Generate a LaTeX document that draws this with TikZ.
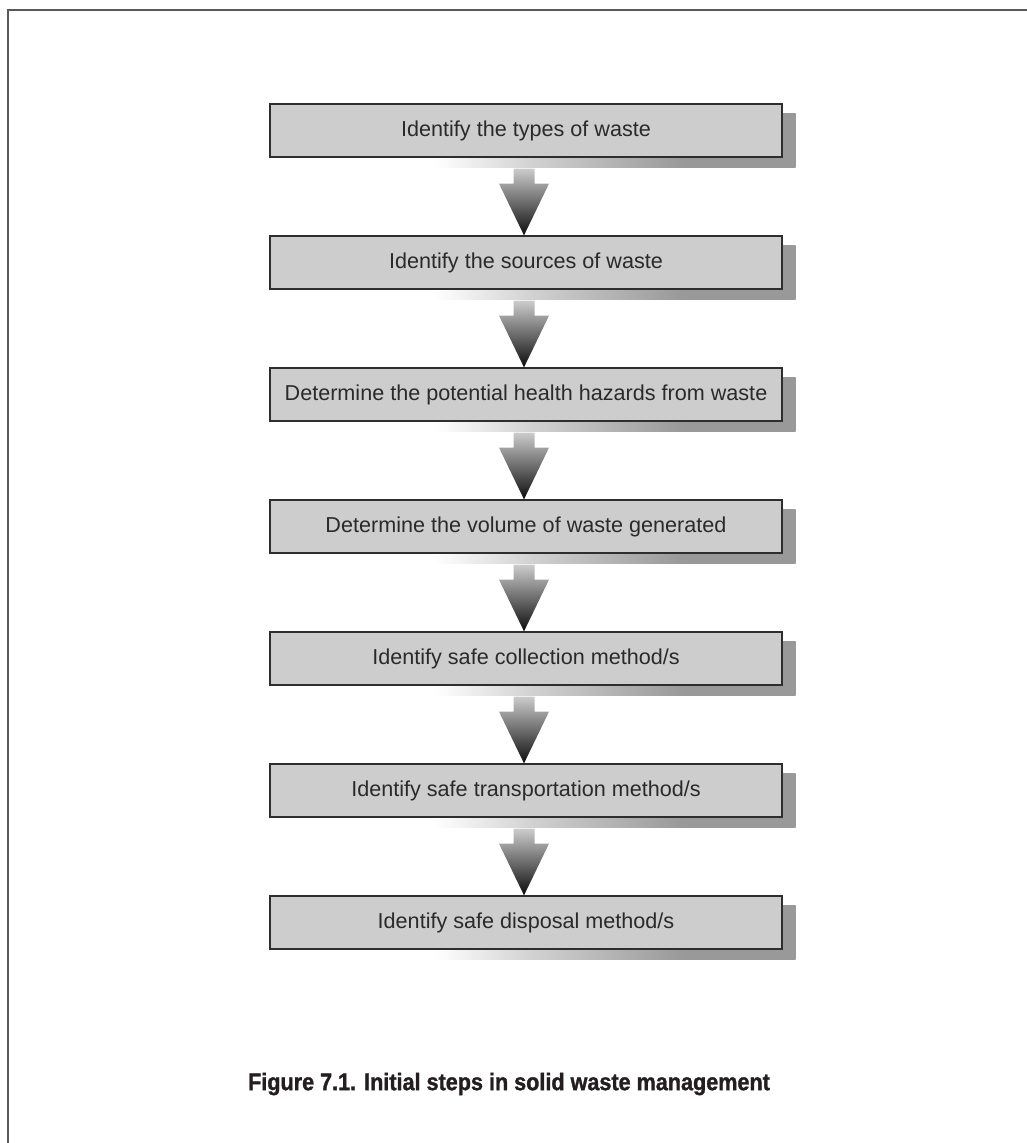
\documentclass[tikz,border=0pt]{standalone}
\usepackage{fontspec}
\setmainfont{Liberation Sans}
\newfontfamily\capfont[FakeBold=1.3,FakeStretch=0.9]{Liberation Sans Bold}
\usetikzlibrary{calc}
\definecolor{boxfill}{HTML}{CDCDCD}
\definecolor{boxline}{HTML}{2E2E2E}
\definecolor{shadowgray}{HTML}{999999}
\definecolor{textgray}{HTML}{2A2A2A}
\definecolor{framegray}{HTML}{5A5A5A}
\definecolor{captext}{HTML}{231F20}
\pgfdeclarehorizontalshading{shadowshade}{100bp}{color(0bp)=(white); color(27bp)=(white); color(40bp)=(white!55!shadowgray); color(60bp)=(shadowgray); color(100bp)=(shadowgray)}
\pgfdeclarelayer{background}
\pgfsetlayers{background,main}
\tikzset{
  stepbox/.style={draw=boxline, line width=1.3pt, fill=boxfill, minimum width=512pt, minimum height=53pt, inner sep=0pt, text=textgray, font=\fontsize{21.6}{26}\selectfont},
  boxshadow/.style={shading=shadowshade},
  flowarrow/.style={top color=gray!40, bottom color=black!95},
  captionstyle/.style={font=\capfont\fontsize{24}{28}\selectfont, text=captext}
}
\begin{document}
\begin{tikzpicture}[x=1pt, y=-1pt]
\useasboundingbox (0,0) rectangle (1027,1143);
\draw[framegray, line width=2pt] (8,1143) -- (8,9.5) -- (1027,9.5);
\node[stepbox] (b1) at (526,130.5) {Identify the types of waste};
\node[stepbox] (b2) at (526,262.5) {Identify the sources of waste};
\node[stepbox] (b3) at (526,394.5) {Determine the potential health hazards from waste};
\node[stepbox] (b4) at (526,526.5) {Determine the volume of waste generated};
\node[stepbox] (b5) at (526,658.5) {Identify safe collection method/s};
\node[stepbox] (b6) at (526,790.5) {Identify safe transportation method/s};
\node[stepbox] (b7) at (526,922.5) {Identify safe disposal method/s};
\begin{pgfonlayer}{background}
\foreach \b in {b1,b2,b3,b4,b5,b6,b7}{
  \shade[boxshadow] ($(\b.north west)+(150,10)$) rectangle ($(\b.south east)+(13,10)$);
}
\end{pgfonlayer}
\foreach \a/\b in {b1/b2,b2/b3,b3/b4,b4/b5,b5/b6,b6/b7}{
  \shade[flowarrow] let \p1=(\a.south), \p2=(\b.north) in
    (\x1-12.5pt,\y1-11pt) -- (\x1+8.5pt,\y1-11pt) -- (\x1+8.5pt,\y1-26pt) -- (\x1+23pt,\y1-26pt)
    -- (\x1-2pt,\y2) -- (\x1-27pt,\y1-26pt) -- (\x1-12.5pt,\y1-26pt) -- cycle;
}
\node[captionstyle] (cap) at (509,1084) {Figure 7.1. Initial steps in solid waste management};
\end{tikzpicture}
\end{document}
